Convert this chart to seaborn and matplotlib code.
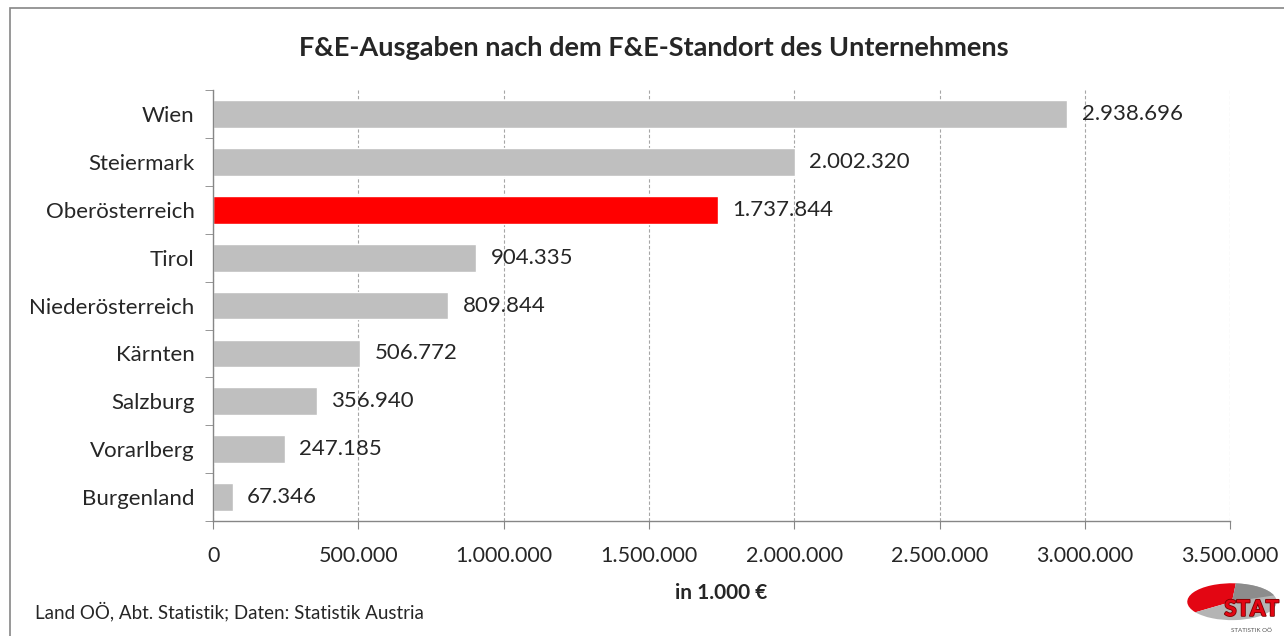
import numpy as np
import pandas as pd
import seaborn as sns
import matplotlib.pyplot as plt
import matplotlib.patheffects as pe
from matplotlib.patches import Rectangle, Wedge
from matplotlib.ticker import FuncFormatter, FixedLocator

# data
regions = ['Wien', 'Steiermark', 'Oberösterreich', 'Tirol', 'Niederösterreich',
           'Kärnten', 'Salzburg', 'Vorarlberg', 'Burgenland']
spend = [2938696, 2002320, 1737844, 904335, 809844, 506772, 356940, 247185, 67346]
highlight = 'Oberösterreich'

df = pd.DataFrame({'region': regions, 'spend': spend})

def de_fmt(v):
    return f'{int(round(v)):,}'.replace(',', '.')

sns.set_style('white')
plt.rcParams['font.family'] = ['Lato', 'DejaVu Sans']

fig = plt.figure(figsize=(12.84, 6.36), dpi=100)
ax = fig.add_axes([0.166, 0.181, 0.792, 0.677])

colors = ['#ff0000' if r == highlight else '#bfbfbf' for r in regions]
sns.barplot(data=df, x='spend', y='region', hue='region', palette=colors,
            legend=False, width=0.58, ax=ax, saturation=1)

ax.set_xlim(0, 3500000)
ax.set_ylim(len(regions) - 0.5, -0.5)
ax.xaxis.set_major_locator(FixedLocator(np.arange(0, 3500001, 500000)))
ax.xaxis.set_major_formatter(FuncFormatter(lambda v, p: de_fmt(v)))
ax.grid(axis='x', color='#a6a6a6', linestyle=(0, (3, 2)), linewidth=0.8)
ax.set_axisbelow(True)

for s in ['top', 'right']:
    ax.spines[s].set_visible(False)
for s in ['left', 'bottom']:
    ax.spines[s].set_color('#868686')
    ax.spines[s].set_linewidth(1.0)

ax.tick_params(axis='x', which='major', bottom=True, length=6, color='#868686',
               labelsize=15.5, pad=12)
ax.tick_params(axis='y', which='major', left=False, labelsize=16, pad=10)
ax.yaxis.set_minor_locator(FixedLocator(np.arange(-0.5, len(regions), 1)))
ax.tick_params(axis='y', which='minor', left=True, length=6, color='#868686')

for i, v in enumerate(spend):
    ax.text(v + 50000, i, de_fmt(v), va='center', ha='left', fontsize=16)

ax.set_ylabel('')
ax.set_xlabel('in 1.000 €', fontsize=15, fontweight='bold', labelpad=12)
fig.text(0.509, 0.925, 'F&E-Ausgaben nach dem F&E-Standort des Unternehmens',
         fontsize=19.5, fontweight='bold', ha='center', va='center')

# outer chart border
fig.patches.append(Rectangle((0.008, -0.01), 1.1, 0.997, transform=fig.transFigure,
                             fill=False, edgecolor='#868686', linewidth=1.2))

fig.text(0.027, 0.027, 'Land OÖ, Abt. Statistik; Daten: Statistik Austria', fontsize=13.5)

# small logo in the corner
lax = fig.add_axes([0.919, 0.0, 0.081, 0.091])
lax.set_xlim(0, 1)
lax.set_ylim(0, 1.35)
lax.axis('off')
lax.add_patch(Wedge((0.5, 0.8), 0.43, 85, 215, facecolor='#e30613', edgecolor='none'))
lax.add_patch(Wedge((0.5, 0.8), 0.43, 215, 85, facecolor='#b4b4b4', edgecolor='none'))
lax.add_patch(Wedge((0.5, 0.8), 0.43, 20, 85, facecolor='#8c8c8c', edgecolor='none'))
lax.text(0.69, 0.62, 'STAT', color='#e30613', fontsize=16, fontweight='black',
         ha='center', va='center', zorder=5,
         path_effects=[pe.withStroke(linewidth=1.2, foreground='#7a0000')])
lax.text(0.69, 0.1, 'STATISTIK OÖ', color='#555555', fontsize=4.5, ha='center',
         zorder=5)

fig.savefig('out.png', dpi=100)
